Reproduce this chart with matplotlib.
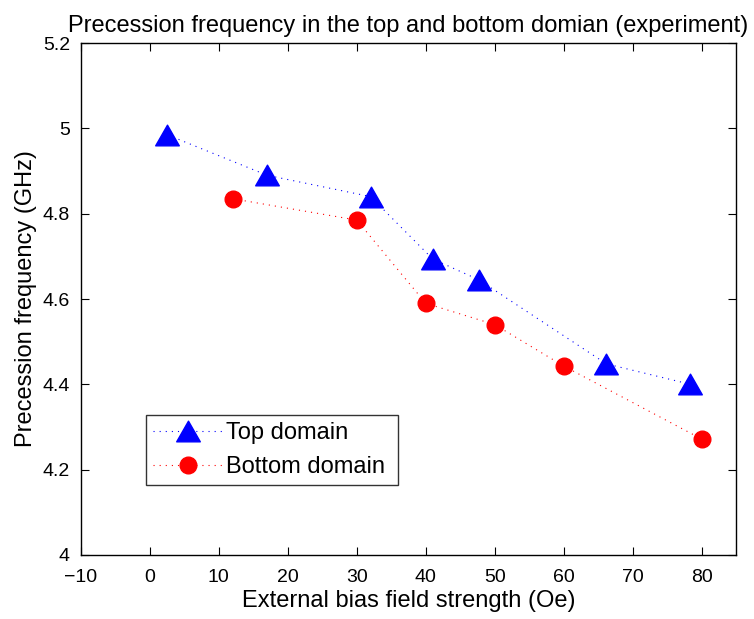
import matplotlib
matplotlib.use("Agg")
import matplotlib.pyplot as plt
from matplotlib.path import Path

plt.rcParams['font.family'] = ['Liberation Sans', 'DejaVu Sans']

# measured precession frequencies (GHz) vs bias field (Oe)
top_field = [2.5, 17, 32, 41, 47.7, 66.2, 78.4]
top_freq = [4.985, 4.89, 4.84, 4.694, 4.645, 4.448, 4.40]

bottom_field = [12, 30, 40, 50, 60, 80]
bottom_freq = [4.835, 4.785, 4.59, 4.54, 4.443, 4.272]

xticks = list(range(-10, 81, 10))
yticks = [4, 4.2, 4.4, 4.6, 4.8, 5, 5.2]
ytick_labels = ['4', '4.2', '4.4', '4.6', '4.8', '5', '5.2']

# slightly wide, flat triangle
tri = Path([(0, 0.875), (-1, -0.875), (1, -0.875), (0, 0.875)],
           [Path.MOVETO, Path.LINETO, Path.LINETO, Path.CLOSEPOLY])
dots = (0, (1, 4.5))

fig = plt.figure(figsize=(7.54, 6.19), dpi=100)
ax = fig.add_axes([0.1074, 0.1034, 0.8687, 0.8271])

ax.plot(top_field, top_freq, linestyle=dots, color='blue', linewidth=0.8,
        marker=tri, markersize=17, markeredgecolor='blue', markerfacecolor='blue',
        label='Top domain')
ax.plot(bottom_field, bottom_freq, linestyle=dots, color='red', linewidth=0.8,
        marker='o', markersize=12, markeredgecolor='red', markerfacecolor='red',
        label='Bottom domain')

ax.set_xlim(-10, 85)
ax.set_ylim(4, 5.2)
ax.set_xticks(xticks)
ax.set_xticklabels(['\u221210'] + [str(t) for t in xticks[1:]])
ax.set_yticks(yticks)
ax.set_yticklabels(ytick_labels)
ax.tick_params(direction='in', top=True, right=True, length=6, width=0.8,
               labelsize=14)
ax.tick_params(axis='x', pad=10)
ax.tick_params(axis='y', pad=8)
for s in ax.spines.values():
    s.set_linewidth(1.0)

ax.set_xlabel('External bias field strength (Oe)', fontsize=17, labelpad=3)
ax.set_ylabel('Precession frequency (GHz)', fontsize=17, labelpad=4)
ax.set_title('Precession frequency in the top and bottom domian (experiment)',
             fontsize=17, pad=8)

leg = ax.legend(loc='lower left', bbox_to_anchor=(0.099, 0.137, 0.385, 0.137),
                mode='expand', fontsize=17, frameon=True, fancybox=False,
                borderaxespad=0, handlelength=3.0, borderpad=0.3,
                labelspacing=0.5, handletextpad=0.1)
leg.get_frame().set_edgecolor('black')
leg.get_frame().set_linewidth(1.0)

fig.savefig('out.png', dpi=100)
